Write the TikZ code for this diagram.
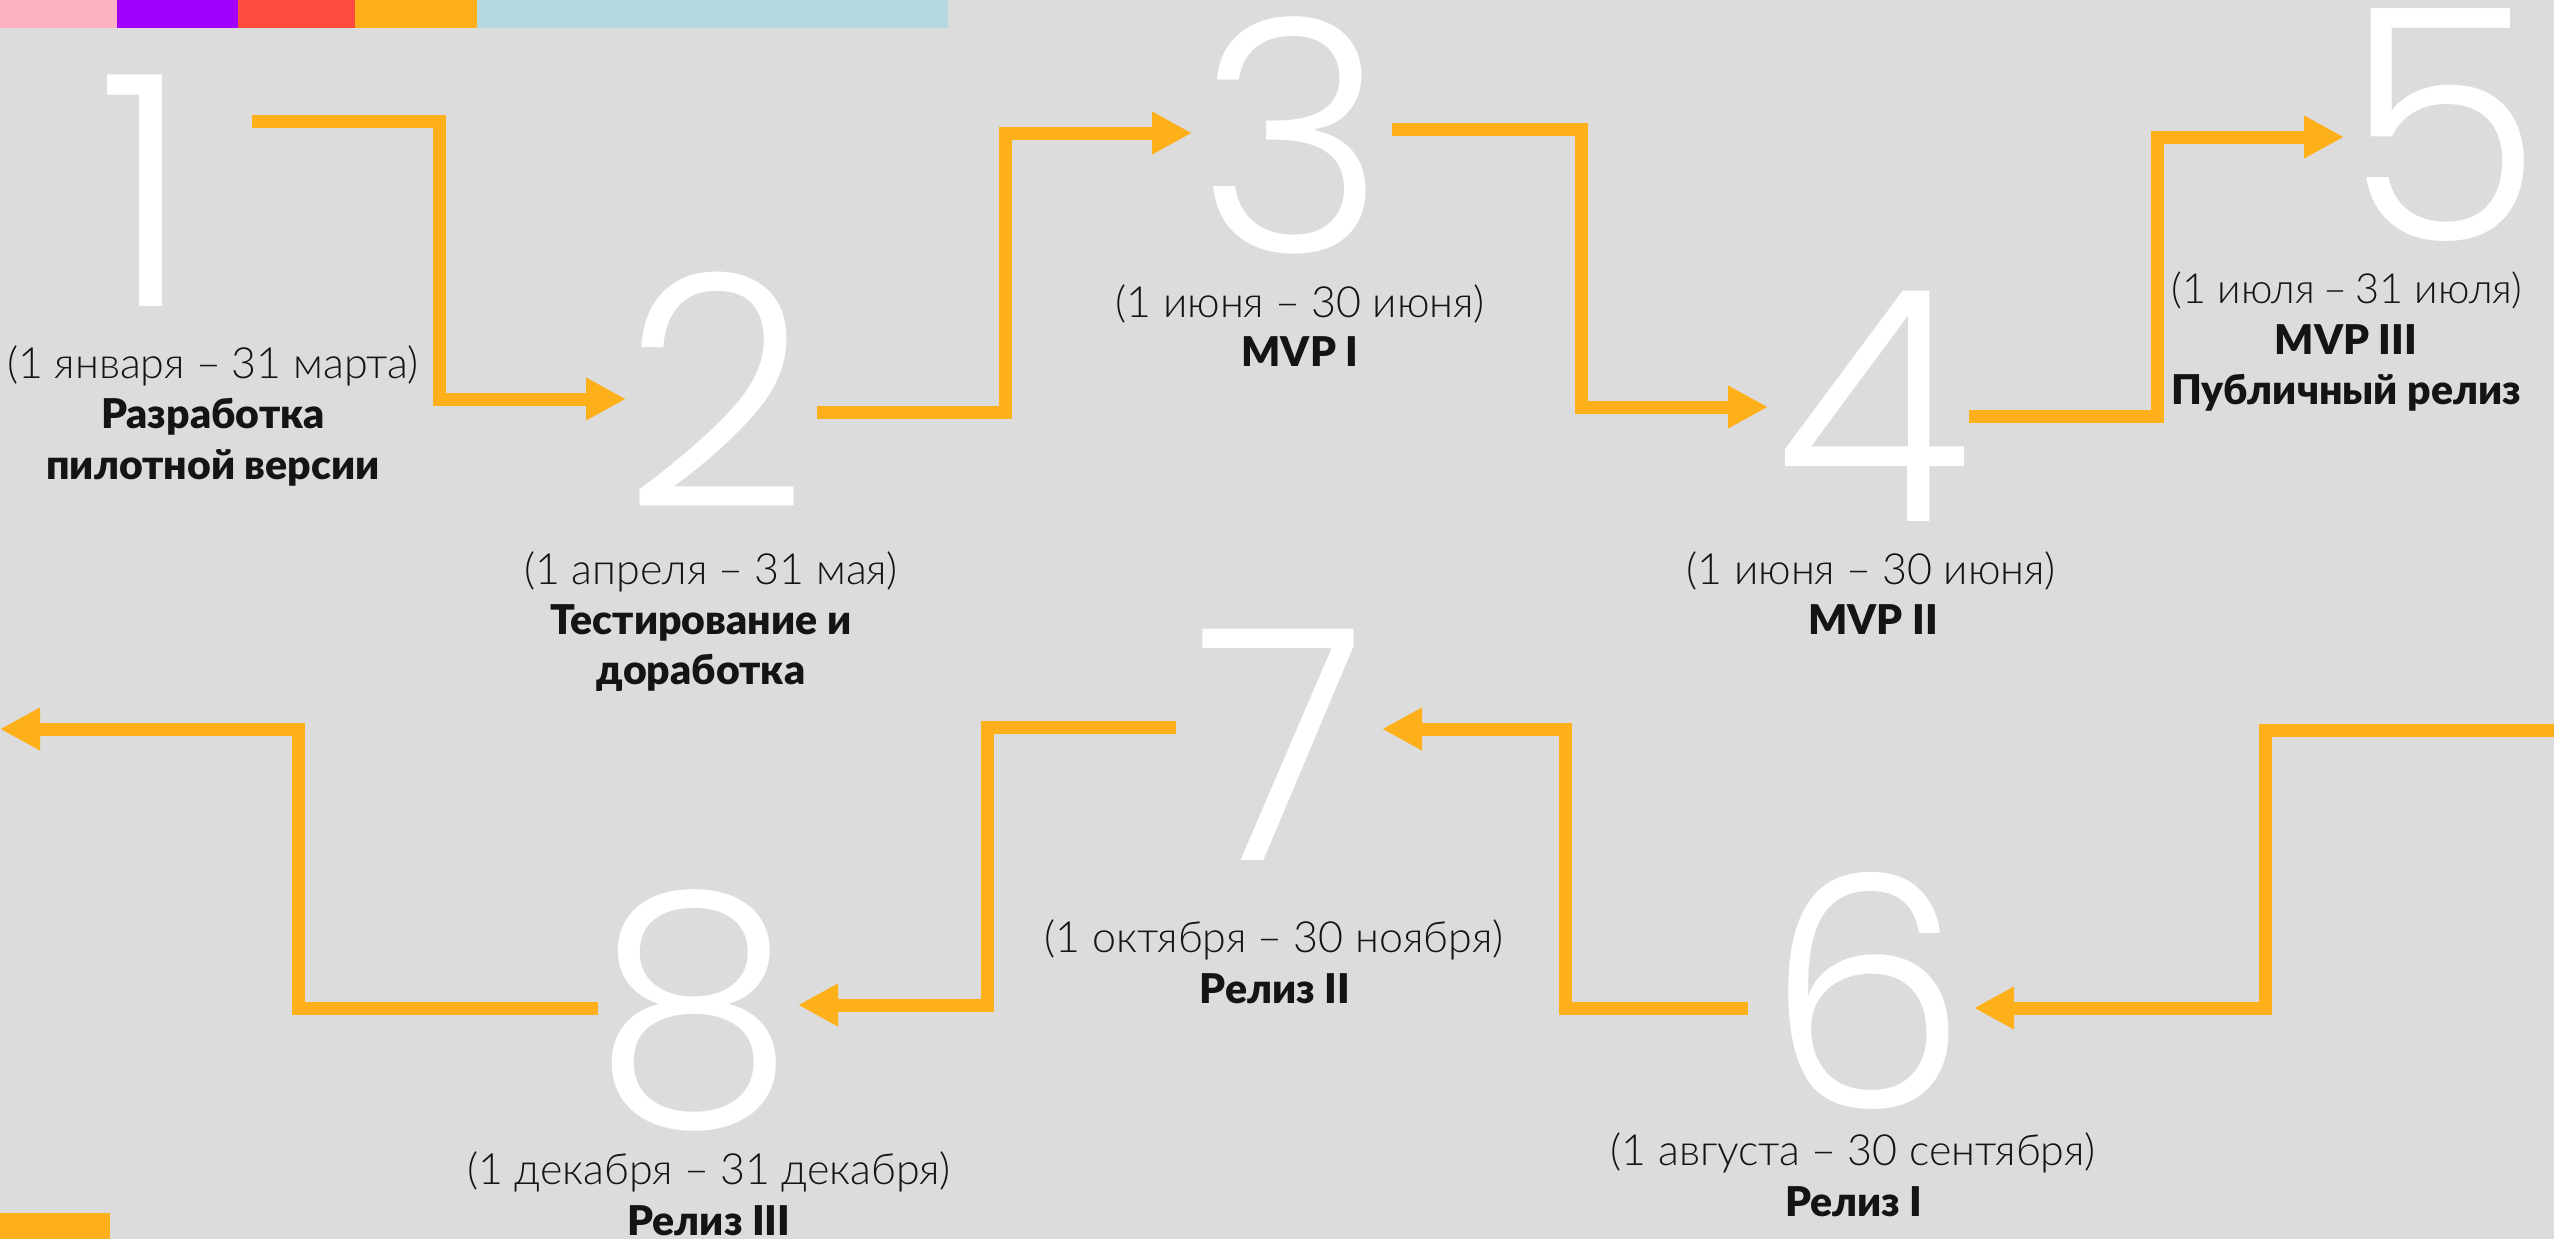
\documentclass[tikz,border=0pt]{standalone}
\usepackage{fontspec}
\setmainfont{Lato}[UprightFont=* Light, BoldFont=* Black]
\newfontfamily\digitfont{Poppins}[UprightFont=* Light]
\usetikzlibrary{arrows.meta}
\definecolor{bg}{RGB}{220,220,220}
\definecolor{orng}{RGB}{253,176,26}
\definecolor{pnk}{RGB}{252,178,195}
\definecolor{prp}{RGB}{161,0,255}
\definecolor{rd}{RGB}{255,75,63}
\definecolor{lblue}{RGB}{181,216,224}
\definecolor{txt}{RGB}{20,20,20}
\newcommand{\dsh}{\hspace{11pt}–\hspace{11pt}}
\newcommand{\dshn}{\hspace{8pt}–\hspace{8pt}}
\begin{document}
\begin{tikzpicture}[x=1pt,y=-1pt,
  conn/.style={draw=orng, line width=13pt, -{Triangle[length=40pt,width=40pt]}},
  digit/.style={text=white, font=\digitfont\fontsize{323}{323}\selectfont, inner sep=0pt, anchor=base, text height=226pt, text depth=0pt},
  dateline/.style={font=\fontsize{43}{50}\selectfont, text=txt, inner sep=0pt, anchor=base, text height=31pt, text depth=9pt},
  titleline/.style={font=\bfseries\fontsize{41}{50}\selectfont, text=txt, inner sep=0pt, anchor=base, text height=31pt, text depth=9pt}]
% background and bounding box
\fill[bg] (0,0) rectangle (2554,1239);
\useasboundingbox (0,0) rectangle (2554,1239);
% top colour bar
\fill[pnk] (0,0) rectangle (117,28);
\fill[prp] (117,0) rectangle (238,28);
\fill[rd] (238,0) rectangle (355,28);
\fill[orng] (355,0) rectangle (477,28);
\fill[lblue] (477,0) rectangle (948,28);
% bottom-left block
\fill[orng] (0,1213) rectangle (110,1239);

% connector end points
\coordinate (s1) at (252,121);  \coordinate (v1) at (439,399);  \coordinate (e1) at (626,399);
\coordinate (s2) at (817,412);  \coordinate (v2) at (1005,133); \coordinate (e2) at (1192,133);
\coordinate (s3) at (1392,129); \coordinate (v3) at (1581,407); \coordinate (e3) at (1768,407);
\coordinate (s4) at (1969,416); \coordinate (v4) at (2157,137); \coordinate (e4) at (2344,137);
\coordinate (s5) at (2554,730); \coordinate (v5) at (2265,1008);\coordinate (e5) at (1974,1008);
\coordinate (s6) at (1748,1008);\coordinate (v6) at (1565,729); \coordinate (e6) at (1382,729);
\coordinate (s7) at (1176,727); \coordinate (v7) at (987,1005);  \coordinate (e7) at (798,1005);
\coordinate (s8) at (598,1008); \coordinate (v8) at (298,729);   \coordinate (e8) at (0,729);

\draw[conn] (s1) -| (v1) -- (e1);
\draw[conn] (s2) -| (v2) -- (e2);
\draw[conn] (s3) -| (v3) -- (e3);
\draw[conn] (s4) -| (v4) -- (e4);
\draw[conn] (s5) -| (v5) -- (e5);
\draw[conn] (s6) -| (v6) -- (e6);
\draw[conn] (s7) -| (v7) -- (e7);
\draw[conn] (s8) -| (v8) -- (e8);

% digits
\node[digit] (n1) at (145,306) {1};
\node[digit] (n2) at (716,507) {2};
\node[digit] (n3) at (1292,252) {3};
\node[digit] (n4) at (1873,521) {4};
\node[digit] (n5) at (2443,240) {5};
\node[digit] (n6) at (1867,1108) {6};
\node[digit] (n7) at (1281,860) {7};
\node[digit] (n8) at (694,1124) {8};

% labels
\node[dateline] (d1) at (213,378) {(1 января\dsh 31 марта)};
\node[titleline] (t1a) at (213,428) {Разработка};
\node[titleline] (t1b) at (213,479) {пилотной версии};

\node[dateline] (d2) at (711,584) {(1 апреля\dsh 31 мая)};
\node[titleline] (t2a) at (701,634) {Тестирование и};
\node[titleline] (t2b) at (701,684) {доработка};

\node[dateline] (d3) at (1300,317) {(1 июня\dsh 30 июня)};
\node[titleline] (t3a) at (1300,366) {MVP I};

\node[dateline] (d4) at (1871,584) {(1 июня\dsh 30 июня)};
\node[titleline] (t4a) at (1873,634) {MVP II};

\node[dateline, font=\fontsize{41.5}{50}\selectfont] (d5) at (2347,303) {(1 июля\dshn 31 июля)};
\node[titleline] (t5a) at (2346,354) {MVP III};
\node[titleline] (t5b) at (2346,404) {Публичный релиз};

\node[dateline] (d6) at (1853,1165) {(1 августа\dsh 30 сентября)};
\node[titleline] (t6a) at (1854,1216) {Релиз I};

\node[dateline] (d7) at (1274,952) {(1 октября\dsh 30 ноября)};
\node[titleline] (t7a) at (1275,1003) {Релиз II};

\node[dateline] (d8) at (709,1184) {(1 декабря\dsh 31 декабря)};
\node[titleline] (t8a) at (709,1235) {Релиз III};
\end{tikzpicture}
\end{document}
